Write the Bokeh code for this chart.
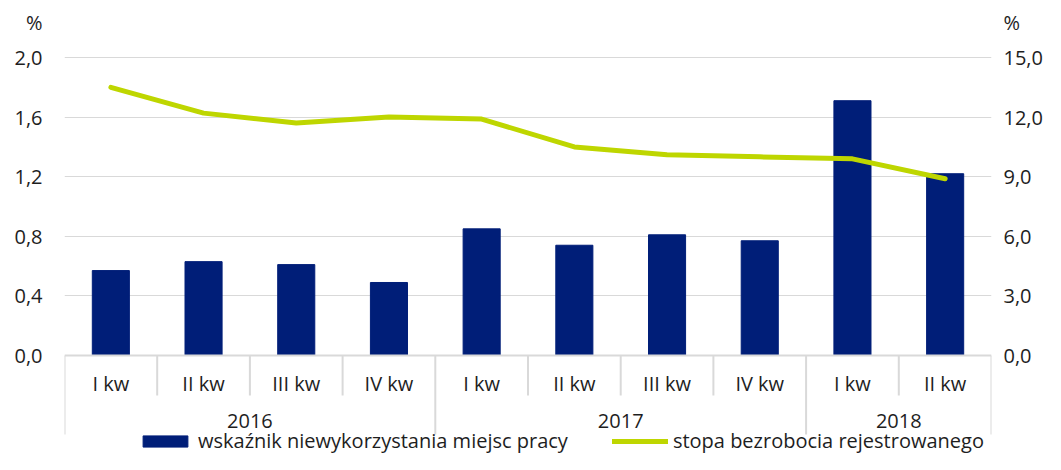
from bokeh.plotting import figure
from bokeh.models import (FactorRange, Range1d, LinearAxis, FixedTicker, CustomJSTickFormatter,
                          ColumnDataSource, Legend, LegendItem, Span)
from bokeh.core.properties import value
from bokeh.embed import file_html
from bokeh.resources import INLINE

# ---------------- data ----------------
years = ["2016", "2016", "2016", "2016", "2017", "2017", "2017", "2017", "2018", "2018"]
quarters = ["I kw", "II kw", "III kw", "IV kw", "I kw", "II kw", "III kw", "IV kw", "I kw", "II kw"]
vacancy = [0.57, 0.63, 0.61, 0.49, 0.85, 0.74, 0.81, 0.77, 1.71, 1.22]
unemployment = [13.5, 12.2, 11.7, 12.0, 11.9, 10.5, 10.1, 10.0, 9.9, 8.9]
left_ticks = [0.0, 0.4, 0.8, 1.2, 1.6, 2.0]
right_ticks = [0.0, 3.0, 6.0, 9.0, 12.0, 15.0]
legend_labels = ["wskaźnik niewykorzystania miejsc pracy", "stopa bezrobocia rejestrowanego"]
unit_label = "%"

# ---------------- styles / layout ----------------
FONT_NAME = "Open Sans"
FONT = value(FONT_NAME)
FS = "20px"
TXT = "#1E1E1E"
BAR = "#001E78"
LINE = "#BED600"
GRID = "#D9D9D9"

W, H = 1045, 454
BL, BR = 64, 51
TOP_PX, ZERO_PX = 57.0, 355.0            # canvas rows of the top tick and of zero
y_top = left_ticks[-1]
px = y_top / (ZERO_PX - TOP_PX)          # data units per pixel (left scale)
y_end = y_top + TOP_PX * px
y_start = -(H - ZERO_PX) * px
ratio = right_ticks[-1] / left_ticks[-1]
unit_pos = y_top + 35 * px               # where the "%" unit sits

factors = list(zip(years, quarters))
x_range = FactorRange(factors=factors, factor_padding=0, group_padding=0, range_padding=0)

p = figure(width=W, height=H, x_range=x_range, y_range=Range1d(y_start, y_end),
           output_backend="svg", toolbar_location=None, x_axis_location=None,
           min_border_left=BL, min_border_right=BR, min_border_top=0, min_border_bottom=0)
p.outline_line_color = None
p.background_fill_color = "white"
p.border_fill_color = "white"
p.extra_y_ranges = {"right": Range1d(y_start * ratio, y_end * ratio)}

code = ("if (tick > top + 1e-9) { return unit; } "
        "return tick.toFixed(1).replace('.', ',');")
lfmt = CustomJSTickFormatter(args=dict(top=left_ticks[-1], unit=unit_label), code=code)
rfmt = CustomJSTickFormatter(args=dict(top=right_ticks[-1], unit=unit_label), code=code)

ax = p.yaxis[0]
ax.ticker = FixedTicker(ticks=left_ticks + [unit_pos])
ax.formatter = lfmt

rax = LinearAxis(y_range_name="right", ticker=FixedTicker(ticks=right_ticks + [unit_pos * ratio]),
                 formatter=rfmt)
p.add_layout(rax, "right")

for a, so in ((ax, 22), (rax, 12)):
    a.axis_line_color = None
    a.major_tick_line_color = None
    a.minor_tick_line_color = None
    a.major_tick_out = 0
    a.major_tick_in = 0
    a.major_label_standoff = so
    a.major_label_text_font = FONT_NAME
    a.major_label_text_font_size = FS
    a.major_label_text_color = TXT

p.xgrid.visible = False
p.ygrid.ticker = FixedTicker(ticks=left_ticks[1:])
p.ygrid.grid_line_color = GRID
p.ygrid.grid_line_width = 1

src = ColumnDataSource(dict(x=factors, v=vacancy, u=unemployment))
bars = p.vbar(x="x", top="v", width=0.4, source=src, fill_color=BAR, line_color=BAR)
line = p.line(x="x", y="u", source=src, y_range_name="right", line_color=LINE,
              line_width=5, line_cap="round", line_join="round")

# baseline of category axis
p.add_layout(Span(location=0, dimension="width", line_color=GRID, line_width=2))

# separators
sub_x = [(y, q, -0.5) for i, (y, q) in enumerate(factors) if i > 0 and years[i] == years[i - 1]]
grp_x = [(y, q, -0.5) for i, (y, q) in enumerate(factors) if i == 0 or years[i] != years[i - 1]]
grp_x.append((factors[-1][0], factors[-1][1], 0.5))
p.segment(x0=sub_x, x1=sub_x, y0=[0] * len(sub_x), y1=[-40 * px] * len(sub_x),
          line_color=GRID, line_width=2)
p.segment(x0=grp_x, x1=grp_x, y0=[0] * len(grp_x), y1=[-79 * px] * len(grp_x),
          line_color=GRID, line_width=2)

# category labels
p.text(x=factors, y=[-28 * px] * len(factors), text=quarters, text_align="center",
       text_baseline="middle", text_font=FONT, text_font_size=FS, text_color=TXT)
year_names = list(dict.fromkeys(years))
p.text(x=year_names, y=[-65 * px] * len(year_names), text=year_names, text_align="center",
       text_baseline="middle", text_font=FONT, text_font_size=FS, text_color=TXT)

legend = Legend(items=[LegendItem(label=legend_labels[0], renderers=[bars]),
                       LegendItem(label=legend_labels[1], renderers=[line])],
                orientation="horizontal", location=(73, 0), glyph_width=56, glyph_height=14,
                label_standoff=5, spacing=44, padding=0, margin=0,
                border_line_color=None, background_fill_alpha=0,
                label_text_font=FONT_NAME, label_text_font_size=FS, label_text_color=TXT)
p.add_layout(legend, "center")

open("out.html", "w").write(file_html(p, INLINE))
